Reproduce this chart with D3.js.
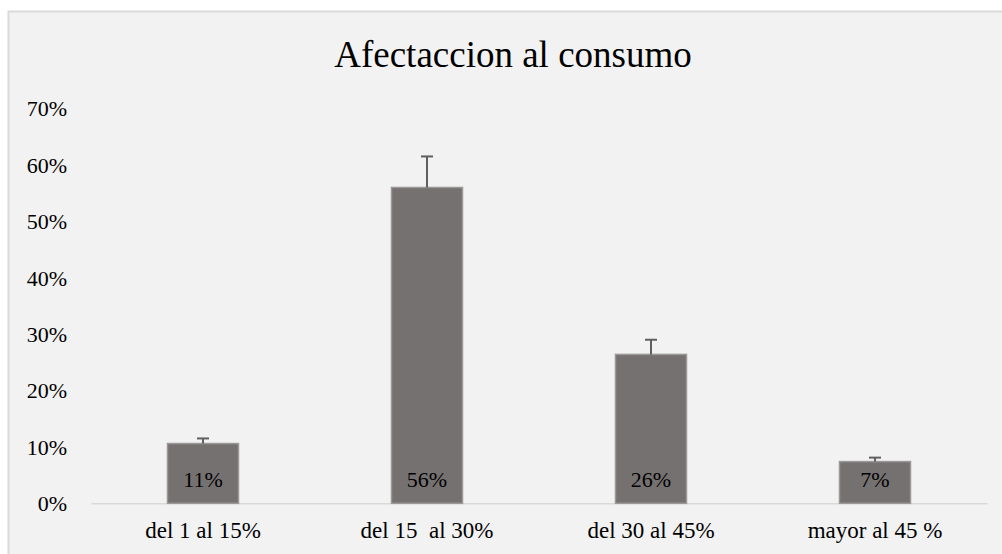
<!DOCTYPE html>
<html>
<head>
<meta charset="utf-8">
<script src="https://cdn.jsdelivr.net/npm/d3@7"></script>
<style>
  html, body { margin: 0; padding: 0; background: #ffffff; }
  svg { display: block; }
  text { font-family: "Liberation Serif", "Times New Roman", serif; fill: #000; }
</style>
</head>
<body>
<svg id="chart" width="1002" height="554"></svg>
<script>
const categories = ["del 1 al 15%", "del 15  al 30%", "del 30 al 45%", "mayor al 45 %"];
const values = [0.106, 0.56, 0.264, 0.074];
const errors = [0.009, 0.055, 0.026, 0.007];
const dataLabels = ["11%", "56%", "26%", "7%"];
const yTicks = [0, 0.1, 0.2, 0.3, 0.4, 0.5, 0.6, 0.7];
const title = "Afectaccion al consumo";

const svg = d3.select("#chart");
const W = 1002, H = 554;

// chart area box (cropped at right/bottom)
svg.append("rect")
  .attr("x", 8.5).attr("y", 11.5)
  .attr("width", W + 10).attr("height", H + 10)
  .attr("fill", "#f2f2f2")
  .attr("stroke", "#d9d9d9").attr("stroke-width", 2);

const x = d3.scaleBand()
  .domain(categories)
  .range([91, 987])
  .paddingInner(0.683)
  .paddingOuter(0.3415);

const y = d3.scaleLinear()
  .domain([0, 0.7])
  .range([503.3, 108.5]);

// title
svg.append("text")
  .attr("x", 513).attr("y", 66.5)
  .attr("text-anchor", "middle")
  .style("font-size", "37px")
  .text(title);

// y axis labels (no line)
const yAxis = d3.axisLeft(y)
  .tickValues(yTicks)
  .tickFormat(d3.format(".0%"))
  .tickSize(0)
  .tickPadding(0);
const gy = svg.append("g").attr("transform", "translate(67,0)").call(yAxis);
gy.select(".domain").remove();
gy.selectAll("text")
  .style("font-size", "22px")
  .style("font-family", "'Liberation Serif', 'Times New Roman', serif")
  .attr("fill", "#000")
  .attr("dy", "0.34em");

// x axis baseline and labels
const xAxis = d3.axisBottom(x).tickSize(0).tickPadding(0);
const gx = svg.append("g").attr("transform", `translate(0,${y(0)})`).call(xAxis);
gx.select(".domain").attr("stroke", "#d9d9d9").attr("stroke-width", 1.5);
gx.selectAll("text")
  .style("font-size", "23px")
  .style("font-family", "'Liberation Serif', 'Times New Roman', serif")
  .style("white-space", "pre")
  .attr("fill", "#000")
  .attr("dy", null)
  .attr("y", 538 - y(0));

const data = categories.map((c, i) => ({ c, v: values[i], e: errors[i], l: dataLabels[i] }));

// bars
svg.append("g").selectAll("rect")
  .data(data).join("rect")
  .attr("x", d => x(d.c))
  .attr("y", d => y(d.v))
  .attr("width", x.bandwidth())
  .attr("height", d => y(0) - y(d.v))
  .attr("fill", "#767171")
  .attr("stroke", "#9a9898")
  .attr("stroke-width", 1.5);

// error bars
const eg = svg.append("g").attr("stroke", "#5f5f5f").attr("stroke-width", 2);
eg.selectAll("line.v")
  .data(data).join("line").attr("class", "v")
  .attr("x1", d => x(d.c) + x.bandwidth() / 2)
  .attr("x2", d => x(d.c) + x.bandwidth() / 2)
  .attr("y1", d => y(d.v))
  .attr("y2", d => y(d.v + d.e));
eg.selectAll("line.c")
  .data(data).join("line").attr("class", "c")
  .attr("x1", d => x(d.c) + x.bandwidth() / 2 - 6)
  .attr("x2", d => x(d.c) + x.bandwidth() / 2 + 6)
  .attr("y1", d => y(d.v + d.e))
  .attr("y2", d => y(d.v + d.e));

// data labels (inside base)
svg.append("g").selectAll("text")
  .data(data).join("text")
  .attr("x", d => x(d.c) + x.bandwidth() / 2)
  .attr("y", y(0) - 16.5)
  .attr("text-anchor", "middle")
  .style("font-size", "22px")
  .text(d => d.l);
</script>
</body>
</html>
